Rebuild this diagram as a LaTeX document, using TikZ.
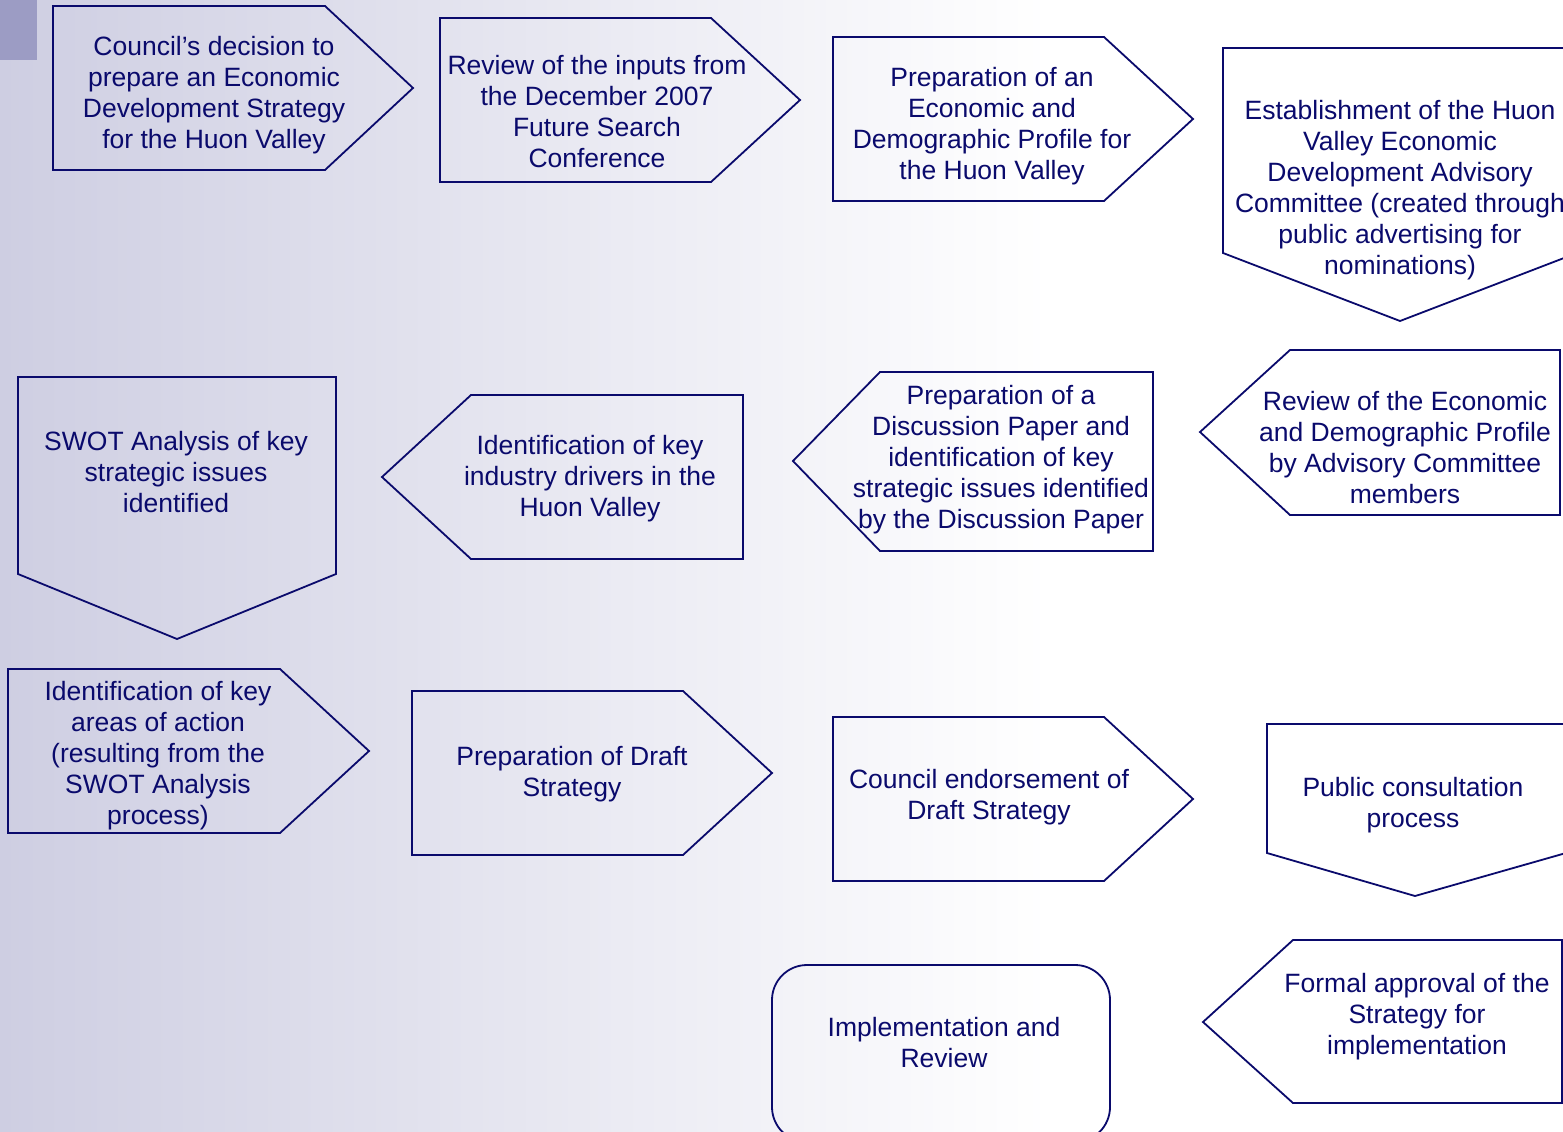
\documentclass[tikz,border=0pt]{standalone}
\usepackage{fontspec}
\setmainfont{Liberation Sans}
\definecolor{navy}{RGB}{10,10,108}
\definecolor{lav}{RGB}{206,206,226}
\definecolor{sq}{RGB}{156,156,196}
\begin{document}
\begin{tikzpicture}[x=1pt,y=-1pt,
  shp/.style={draw=navy,line width=1.8pt,line join=miter},
  lbl/.style={text=navy,align=center,font=\fontsize{26.5}{31}\selectfont,inner sep=0pt}]
\useasboundingbox (0,0) rectangle (1563,1132);
\clip (0,0) rectangle (1563,1132);
\fill[white] (0,0) rectangle (1563,1132);
\shade[left color=lav,right color=white] (0,0) rectangle (1050,1132);
\fill[sq] (0,0) rectangle (37,60);
% row 1
\draw[shp] (53,6) -- (325,6) -- (413,88) -- (325,170) -- (53,170) -- cycle;
\node[lbl] (s1) at (214,95) {Council’s decision to\\prepare an Economic\\Development Strategy\\for the Huon Valley};
\draw[shp] (440,18) -- (711,18) -- (800,100) -- (711,182) -- (440,182) -- cycle;
\node[lbl] (s2) at (597,112) {Review of the inputs from\\the December 2007\\Future Search\\Conference};
\draw[shp] (833,37) -- (1104,37) -- (1193,119) -- (1104,201) -- (833,201) -- cycle;
\node[lbl] (s3) at (992,126) {Preparation of an\\Economic and\\Demographic Profile for\\the Huon Valley};
\draw[shp] (1223,48) -- (1577,48) -- (1577,253) -- (1400,321) -- (1223,253) -- cycle;
\node[lbl] (s4) at (1400,190) {Establishment of the Huon\\Valley Economic\\Development Advisory\\Committee (created through\\public advertising for\\nominations)};
% row 2
\draw[shp] (1290,350) -- (1560,350) -- (1560,515) -- (1290,515) -- (1200,432) -- cycle;
\node[lbl] (s5) at (1405,448) {Review of the Economic\\and Demographic Profile\\by Advisory Committee\\members};
\draw[shp] (880,372) -- (1153,372) -- (1153,551) -- (880,551) -- (793,461) -- cycle;
\node[lbl] (s6) at (1001,460) {Preparation of a\\Discussion Paper and\\identification of key\\strategic issues identified\\by the Discussion Paper};
\draw[shp] (471,395) -- (743,395) -- (743,559) -- (471,559) -- (382,477) -- cycle;
\node[lbl] (s7) at (590,479) {Identification of key\\industry drivers in the\\Huon Valley};
\draw[shp] (18,377) -- (336,377) -- (336,574) -- (177,639) -- (18,574) -- cycle;
\node[lbl] (s8) at (176,472) {SWOT Analysis of key\\strategic issues\\identified};
% row 3
\draw[shp] (8,669) -- (280,669) -- (369,751) -- (280,833) -- (8,833) -- cycle;
\node[lbl] (s9) at (158,756) {Identification of key\\areas of action\\(resulting from the\\SWOT Analysis\\process)};
\draw[shp] (412,691) -- (683,691) -- (772,773) -- (683,855) -- (412,855) -- cycle;
\node[lbl] (s10) at (572,774) {Preparation of Draft\\Strategy};
\draw[shp] (833,717) -- (1104,717) -- (1193,799) -- (1104,881) -- (833,881) -- cycle;
\node[lbl] (s11) at (989,797) {Council endorsement of\\Draft Strategy};
\draw[shp] (1267,724) -- (1580,724) -- (1580,849) -- (1415,896) -- (1267,853) -- cycle;
\node[lbl] (s12) at (1413,805) {Public consultation\\process};
% row 4
\draw[shp] (1293,940) -- (1562,940) -- (1562,1103) -- (1293,1103) -- (1203,1022) -- cycle;
\node[lbl] (s13) at (1417,1017) {Formal approval of the\\Strategy for\\implementation};
\draw[shp,rounded corners=35pt] (772,1050) -- (772,965) -- (1110,965) -- (1110,1142) -- (772,1142) -- cycle;
\node[lbl] (s14) at (944,1043) {Implementation and\\Review};
\end{tikzpicture}
\end{document}
